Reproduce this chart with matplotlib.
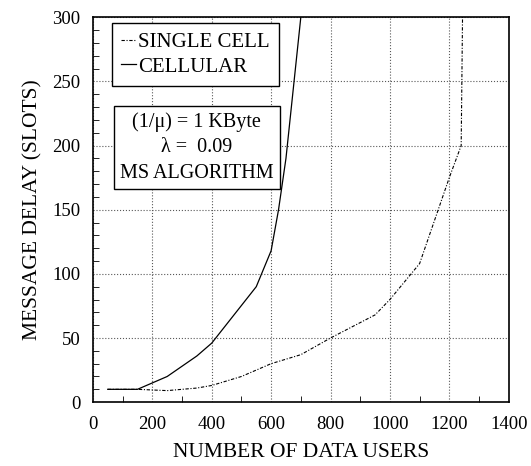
"""
Message delay vs number of data users, single cell vs cellular.
"""
import matplotlib
matplotlib.use("Agg")
import matplotlib.pyplot as plt
from matplotlib.ticker import MultipleLocator

# values
single_users = [50, 150, 250, 350, 400, 500, 550, 600, 700, 800, 950, 1000, 1100, 1200, 1240, 1245]
single_delay = [10, 10, 9, 11, 13, 20, 25, 30, 37, 50, 68, 80, 108, 175, 200, 310]

cell_users = [50, 100, 150, 250, 350, 400, 550, 600, 625, 650, 675, 700, 705]
cell_delay = [10, 10, 10, 20, 36, 46, 90, 118, 150, 190, 245, 300, 310]

x_ticks = [0, 200, 400, 600, 800, 1000, 1200, 1400]
y_ticks = [0, 50, 100, 150, 200, 250, 300]

plt.rcParams['font.family'] = ['Liberation Serif', 'DejaVu Serif']

fig = plt.figure(figsize=(5.31, 4.66), dpi=100)
ax = fig.add_axes([0.175, 0.137, 0.783, 0.826])

ax.plot(single_users, single_delay, color='black', lw=0.8,
        linestyle=(0, (3, 1.5, 1, 1.5)), label='SINGLE CELL')
ax.plot(cell_users, cell_delay, color='black', lw=0.9, label='CELLULAR')

ax.set_xlim(0, 1400)
ax.set_ylim(0, 300)
ax.set_xticks(x_ticks)
ax.set_yticks(y_ticks)
ax.yaxis.set_minor_locator(MultipleLocator(10))
ax.xaxis.set_minor_locator(MultipleLocator(100))
ax.tick_params(which='both', direction='in', labelsize=13.5)
ax.tick_params(which='major', length=0, pad=9)
ax.tick_params(axis='x', which='major', pad=10)
ax.tick_params(which='minor', length=4)
ax.grid(True, which='major', color='0.35', linestyle=':', lw=0.8)

for spine in ax.spines.values():
    spine.set_linewidth(1.2)

ax.set_xlabel("NUMBER OF DATA USERS", fontsize=15.5, labelpad=7)
ax.set_ylabel("MESSAGE DELAY (SLOTS)", fontsize=15.5, labelpad=7)

leg = ax.legend(loc='upper left', bbox_to_anchor=(0.045, 0.985), borderaxespad=0,
                fontsize=15, handlelength=0.7, handletextpad=0.1,
                labelspacing=0.25, fancybox=False, framealpha=1,
                edgecolor='black', borderpad=0.45)
leg.get_frame().set_linewidth(1.0)

ax.text(0.25, 0.662, "(1/\u03bc) = 1 KByte\n\u03bb =  0.09\nMS ALGORITHM",
        transform=ax.transAxes, ha='center', va='center', fontsize=14.5,
        linespacing=1.45,
        bbox=dict(boxstyle='square,pad=0.3', facecolor='white',
                  edgecolor='black', linewidth=1.0))

plt.savefig("out.png", dpi=100)
